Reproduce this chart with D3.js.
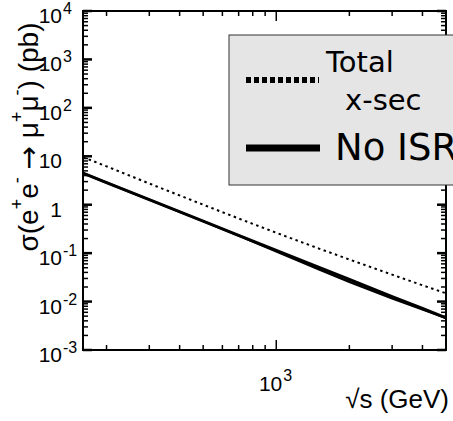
<!DOCTYPE html>
<html>
<head>
<meta charset="utf-8">
<script src="https://cdn.jsdelivr.net/npm/d3@7/dist/d3.min.js"></script>
<style>
  html, body { margin: 0; padding: 0; background: #fff; }
  svg { display: block; }
  text { font-family: "Liberation Sans", Arial, sans-serif; fill: #000; }
  .legend text { font-family: "DejaVu Sans", sans-serif; }
</style>
</head>
<body>
<svg id="chart" width="453" height="421"></svg>
<script>
// Centre-of-mass energy sqrt(s) in GeV
const sqrtS = [160, 200, 300, 500, 700, 1000, 1500, 2000, 3000, 4000, 5000];
// Cross sections in pb
const totalXsec = [9.6, 6.2, 2.74, 1.0, 0.52, 0.263, 0.124, 0.074, 0.036, 0.0217, 0.0148];
const noIsr     = [4.5, 2.86, 1.27, 0.46, 0.233, 0.114, 0.051, 0.0286, 0.0127, 0.0072, 0.0046];
const bornLevel = [4.5, 2.86, 1.27, 0.455, 0.228, 0.108, 0.046, 0.0255, 0.0116, 0.0069, 0.0046];
// Axis ticks
const yMajor = [1e-3, 1e-2, 1e-1, 1, 10, 100, 1e3, 1e4];
const yLabels = [["10", "-3"], ["10", "-2"], ["10", "-1"], ["1", ""], ["10", ""], ["10", "2"], ["10", "3"], ["10", "4"]];
const xMajor = [1000];
const xMinor = [200, 300, 400, 500, 600, 700, 800, 900, 2000, 3000, 4000];
const xLabels = [["10", "3"]];

const svg = d3.select("#chart");
const L = 83, R = 446, T = 11, B = 350;

const x = d3.scaleLog().domain([160, 5000]).range([L, R]);
const y = d3.scaleLog().domain([1e-3, 1e4]).range([B, T]);

const yMinor = [];
yMajor.slice(0, -1).forEach(v => { for (let k = 2; k <= 9; k++) yMinor.push(v * k); });

svg.append("defs").append("clipPath").attr("id", "plotClip")
  .append("rect").attr("x", L).attr("y", T).attr("width", R - L).attr("height", B - T);

// Data curves
const line = d3.line().x(d => x(d[0])).y(d => y(d[1]));
const plot = svg.append("g").attr("clip-path", "url(#plotClip)");

plot.append("path").datum(d3.zip(sqrtS, totalXsec))
  .attr("d", line).attr("fill", "none").attr("stroke", "#000")
  .attr("stroke-width", 2).attr("stroke-dasharray", "2.5,3.5");
plot.append("path").datum(d3.zip(sqrtS, bornLevel))
  .attr("d", line).attr("fill", "none").attr("stroke", "#000")
  .attr("stroke-width", 2.2);
plot.append("path").datum(d3.zip(sqrtS, noIsr))
  .attr("d", line).attr("fill", "none").attr("stroke", "#000")
  .attr("stroke-width", 3);

// Frame axes: ticks point into the plot on all four sides
const frame = svg.append("g").attr("stroke", "#000").attr("fill", "none");
const majY = 9, minY = 5, majX = 10, minX = 5;

yMajor.forEach(v => {
  frame.append("line").attr("x1", L).attr("x2", L + majY).attr("y1", y(v)).attr("y2", y(v)).attr("stroke-width", 2.5);
  frame.append("line").attr("x1", R).attr("x2", R - majY).attr("y1", y(v)).attr("y2", y(v)).attr("stroke-width", 2.5);
});
yMinor.forEach(v => {
  frame.append("line").attr("x1", L).attr("x2", L + minY).attr("y1", y(v)).attr("y2", y(v)).attr("stroke-width", 1.5);
  frame.append("line").attr("x1", R).attr("x2", R - minY).attr("y1", y(v)).attr("y2", y(v)).attr("stroke-width", 1.5);
});
xMajor.forEach(v => {
  frame.append("line").attr("x1", x(v)).attr("x2", x(v)).attr("y1", B).attr("y2", B - majX).attr("stroke-width", 1.5);
  frame.append("line").attr("x1", x(v)).attr("x2", x(v)).attr("y1", T).attr("y2", T + majX).attr("stroke-width", 1.5);
});
xMinor.forEach(v => {
  frame.append("line").attr("x1", x(v)).attr("x2", x(v)).attr("y1", B).attr("y2", B - minX).attr("stroke-width", 1.5);
  frame.append("line").attr("x1", x(v)).attr("x2", x(v)).attr("y1", T).attr("y2", T + minX).attr("stroke-width", 1.5);
});
frame.append("rect").attr("x", L).attr("y", T).attr("width", R - L).attr("height", B - T).attr("stroke-width", 2);

// Y tick labels (base + superscript exponent)
const yl = svg.append("g");
yMajor.forEach((v, i) => {
  const [base, exp] = yLabels[i];
  yl.append("text").attr("x", 62).attr("y", y(v) + 12).attr("text-anchor", "end")
    .style("font-size", "21px").text(base);
  if (exp) yl.append("text").attr("x", 63).attr("y", y(v) + 3)
    .style("font-size", "16px").text(exp);
});

// X tick labels
xMajor.forEach((v, i) => {
  const [base, exp] = xLabels[i];
  svg.append("text").attr("x", x(v) + 6).attr("y", 391).attr("text-anchor", "end")
    .style("font-size", "21px").text(base);
  svg.append("text").attr("x", x(v) + 7).attr("y", 381).style("font-size", "16px").text(exp);
});

// Axis titles
svg.append("text").attr("x", 449).attr("y", 408).attr("text-anchor", "end")
  .style("font-size", "26px").text("\u221As (GeV)");

const yt = svg.append("text").attr("transform", "translate(38,137) rotate(-90)")
  .attr("text-anchor", "middle").style("font-size", "28px");
yt.append("tspan").text("\u03C3(e");
yt.append("tspan").attr("dy", -15).style("font-size", "18px").text("+");
yt.append("tspan").attr("dy", 15).text("e");
yt.append("tspan").attr("dy", -15).style("font-size", "18px").text("-");
yt.append("tspan").attr("dy", 15).text(" ");
yt.append("tspan").style("font-family", "DejaVu Sans").text("\u2192");
yt.append("tspan").text(" \u03BC");
yt.append("tspan").attr("dy", -15).style("font-size", "18px").text("+");
yt.append("tspan").attr("dy", 15).text("\u03BC");
yt.append("tspan").attr("dy", -15).style("font-size", "18px").text("-");
yt.append("tspan").attr("dy", 15).text(") (pb)");

// Legend
const lg = svg.append("g").attr("class", "legend");
lg.append("rect").attr("x", 229).attr("y", 35).attr("width", 240).attr("height", 150)
  .attr("fill", "#e5e5e5").attr("stroke", "#333").attr("stroke-width", 1);
lg.append("line").attr("x1", 246).attr("x2", 319).attr("y1", 80).attr("y2", 80)
  .attr("stroke", "#000").attr("stroke-width", 6).attr("stroke-dasharray", "5,3");
lg.append("line").attr("x1", 246).attr("x2", 320).attr("y1", 148).attr("y2", 148)
  .attr("stroke", "#000").attr("stroke-width", 7);
lg.append("text").attr("x", 326).attr("y", 72).style("font-size", "29px").text("Total");
lg.append("text").attr("x", 345).attr("y", 110).style("font-size", "29px").text("x-sec");
lg.append("text").attr("x", 335).attr("y", 160).style("font-size", "37px").text("No ISR");
</script>
</body>
</html>
